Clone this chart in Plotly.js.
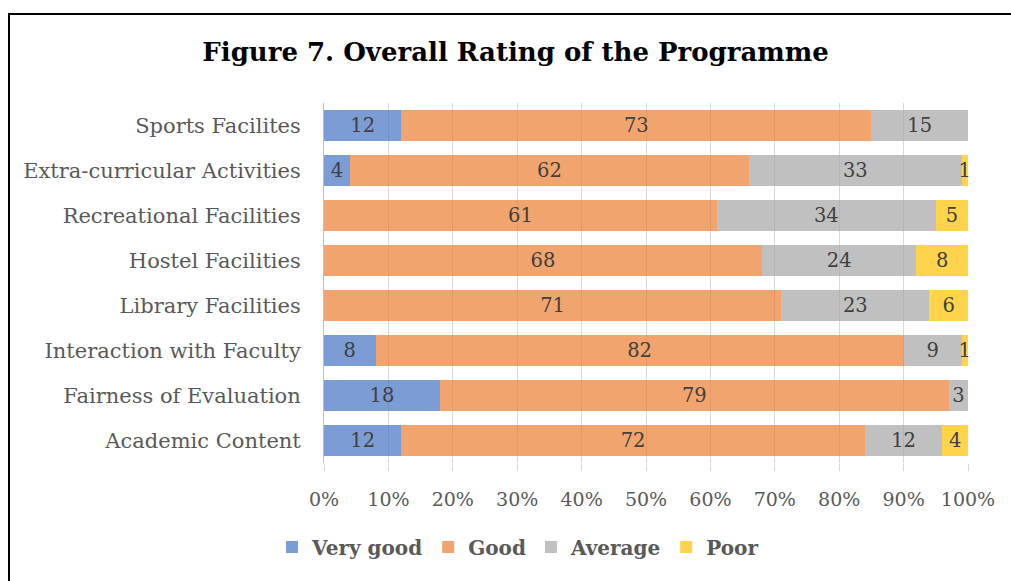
<!DOCTYPE html>
<html>
<head>
<meta charset="utf-8">
<script src="https://cdn.plot.ly/plotly-3.0.1.min.js"></script>
<style>
  html, body { margin: 0; padding: 0; background: #fff; }
  #wrap { position: relative; width: 1011px; height: 581px; }
  #chart { width: 1011px; height: 581px; }
  #frame { position: absolute; left: 8px; top: 13px; width: 1011px; height: 600px;
           border-left: 2px solid #000; border-top: 2px solid #000; pointer-events: none; }
</style>
</head>
<body>
<div id="wrap">
  <div id="chart"></div>
  <div id="frame"></div>
</div>
<script>
const categories = [
  "Sports Facilites",
  "Extra-curricular Activities",
  "Recreational Facilities",
  "Hostel Facilities",
  "Library Facilities",
  "Interaction with Faculty",
  "Fairness of Evaluation",
  "Academic Content"
];
const veryGood = [12, 4, 0, 0, 0, 8, 18, 12];
const good     = [73, 62, 61, 68, 71, 82, 79, 72];
const average  = [15, 33, 34, 24, 23, 9, 3, 12];
const poor     = [0, 1, 5, 8, 6, 1, 0, 4];
const seriesNames = ["Very good", "Good", "Average", "Poor"];
const seriesColors = ["rgba(68,114,196,0.7)", "rgba(237,125,49,0.7)", "rgba(165,165,165,0.7)", "rgba(255,192,0,0.7)"];
const tickVals = [0, 10, 20, 30, 40, 50, 60, 70, 80, 90, 100];
const tickLabels = ["0%", "10%", "20%", "30%", "40%", "50%", "60%", "70%", "80%", "90%", "100%"];

const FONT = "DejaVu Serif, Liberation Serif, serif";
const allSeries = [veryGood, good, average, poor];

const traces = allSeries.map((vals, i) => {
  const total = vals.map((v, k) => allSeries.reduce((s, a) => s + a[k], 0));
  return {
    type: "bar",
    orientation: "h",
    name: seriesNames[i],
    y: categories,
    x: vals.map((v, k) => v / total[k] * 100),
    text: vals.map(v => v === 0 ? "" : String(v)),
    textposition: "inside",
    insidetextanchor: "middle",
    constraintext: "none",
    cliponaxis: false,
    textangle: 0,
    textfont: { family: FONT, size: 19.5, color: "#404040" },
    marker: { color: seriesColors[i], line: { width: 0 } },
    hoverinfo: "skip"
  };
});

const layout = {
  width: 1011,
  height: 581,
  paper_bgcolor: "#ffffff",
  plot_bgcolor: "#ffffff",
  barmode: "stack",
  bargap: 0.333,
  margin: { l: 324, r: 43, t: 103, b: 118, pad: 0 },
  font: { family: FONT, color: "#595959" },
  title: {
    text: "<b>Figure 7. Overall Rating of the Programme</b>",
    font: { family: FONT, size: 26, color: "#000000" },
    xref: "container", x: 0.51, xanchor: "center",
    yref: "container", y: 1 - 52 / 581, yanchor: "middle"
  },
  xaxis: {
    range: [0, 100],
    tickvals: tickVals,
    ticktext: tickLabels,
    showgrid: true,
    gridcolor: "#D9D9D9",
    gridwidth: 1,
    zeroline: false,
    showline: false,
    ticks: "outside",
    ticklen: 7,
    tickcolor: "#D9D9D9",
    tickwidth: 1,
    ticklabelstandoff: 12,
    tickfont: { family: FONT, size: 19, color: "#595959" },
    fixedrange: true
  },
  yaxis: {
    type: "category",
    autorange: "reversed",
    showgrid: false,
    zeroline: false,
    showline: true,
    linecolor: "#BFBFBF",
    linewidth: 1,
    ticks: "",
    ticklabelstandoff: 18,
    tickfont: { family: FONT, size: 21, color: "#595959" },
    fixedrange: true
  },
  showlegend: true,
  legend: {
    orientation: "h",
    traceorder: "normal",
    x: (518 - 324) / 644, xanchor: "center",
    y: -(547 - 463) / 360, yanchor: "middle",
    font: { family: FONT, size: 20, color: "#595959", weight: "bold" },
    itemwidth: 30,
    itemclick: false,
    itemdoubleclick: false
  }
};

Plotly.newPlot("chart", traces, layout, { displayModeBar: false, staticPlot: true });
</script>
</body>
</html>
